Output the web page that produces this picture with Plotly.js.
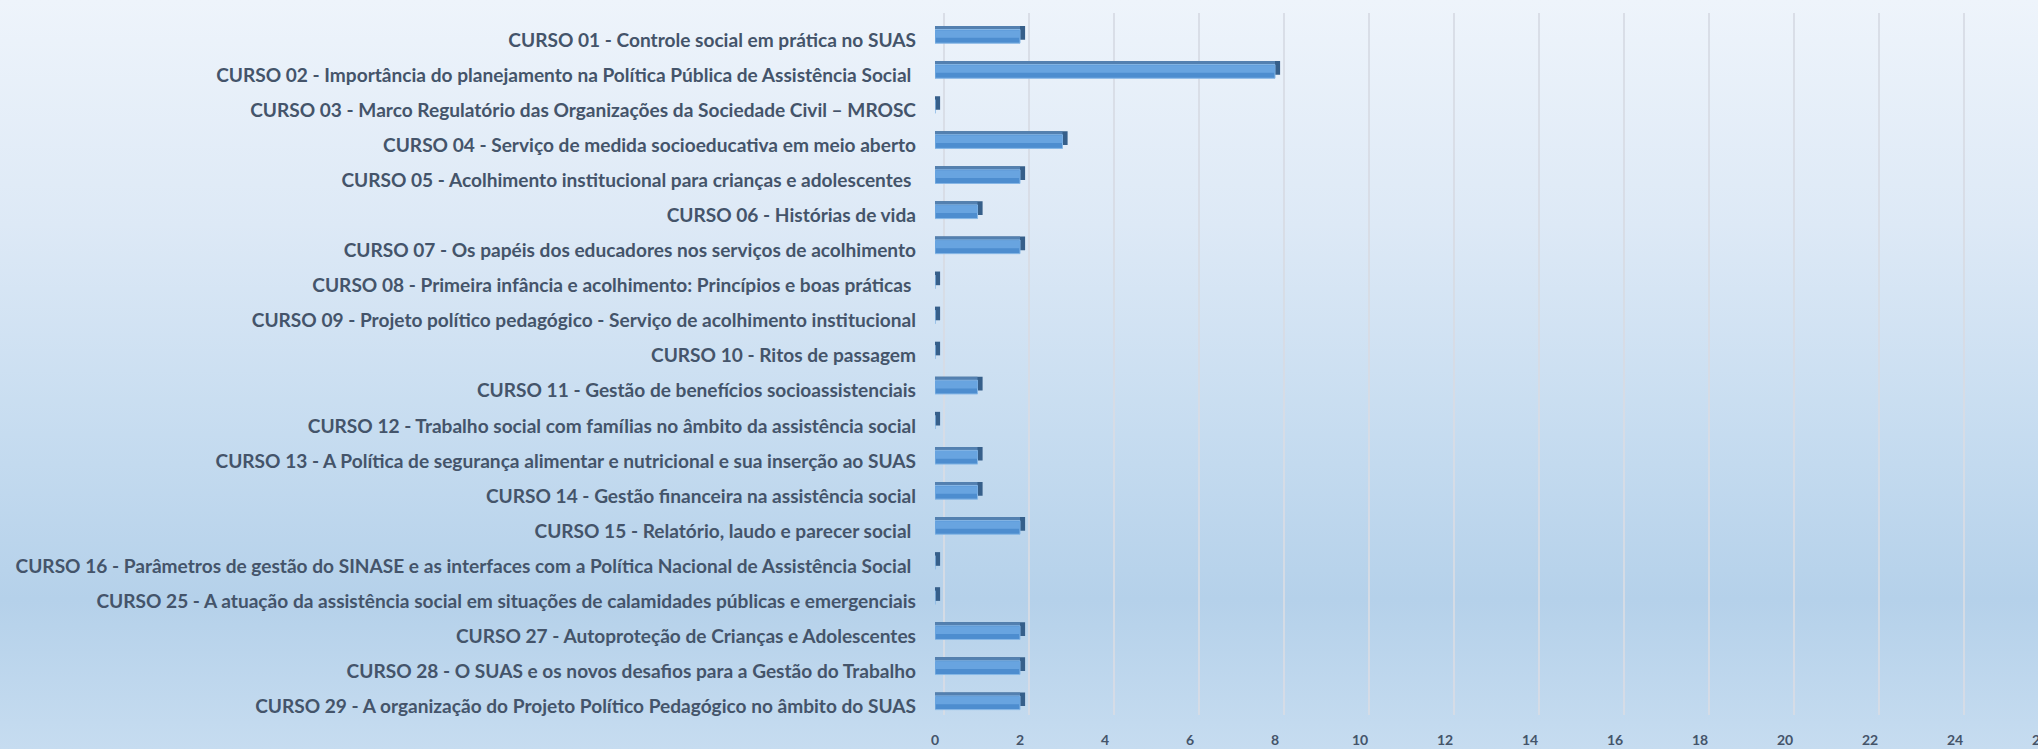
<!DOCTYPE html>
<html>
<head>
<meta charset="utf-8">
<script src="https://cdn.plot.ly/plotly-3.0.1.min.js"></script>
<style>
  html, body { margin: 0; padding: 0; overflow: hidden; width: 2038px; height: 749px; }
  body { background: linear-gradient(to bottom, #eef4fb 0%, #dde9f6 30%, #c6dcf0 58%, #b5d1ea 80%, #c6dcf0 100%); }
  #chart { width: 2050px; height: 749px; }
</style>
</head>
<body>
<div id="chart"></div>
<script>
const NB = '\u00a0';
const categories = [
  'CURSO 01 - Controle social em prática no SUAS',
  'CURSO 02 - Importância do planejamento na Política Pública de Assistência Social' + NB,
  'CURSO 03 - Marco Regulatório das Organizações da Sociedade Civil – MROSC',
  'CURSO 04 - Serviço de medida socioeducativa em meio aberto',
  'CURSO 05 - Acolhimento institucional para crianças e adolescentes' + NB,
  'CURSO 06 - Histórias de vida',
  'CURSO 07 - Os papéis dos educadores nos serviços de acolhimento',
  'CURSO 08 - Primeira infância e acolhimento: Princípios e boas práticas' + NB,
  'CURSO 09 - Projeto político pedagógico - Serviço de acolhimento institucional',
  'CURSO 10 - Ritos de passagem',
  'CURSO 11 - Gestão de benefícios socioassistenciais',
  'CURSO 12 - Trabalho social com famílias no âmbito da assistência social',
  'CURSO 13 - A Política de segurança alimentar e nutricional e sua inserção ao SUAS',
  'CURSO 14 - Gestão financeira na assistência social',
  'CURSO 15 - Relatório, laudo e parecer social' + NB,
  'CURSO 16 - Parâmetros de gestão do SINASE e as interfaces com a Política Nacional de Assistência Social' + NB,
  'CURSO 25 - A atuação da assistência social em situações de calamidades públicas e emergenciais',
  'CURSO 27 - Autoproteção de Crianças e Adolescentes',
  'CURSO 28 - O SUAS e os novos desafios para a Gestão do Trabalho',
  'CURSO 29 - A organização do Projeto Político Pedagógico no âmbito do SUAS'
];
const values = [2, 8, 0, 3, 2, 1, 2, 0, 0, 0, 1, 0, 1, 1, 2, 0, 0, 2, 2, 2];
const tickValues = [0, 2, 4, 6, 8, 10, 12, 14, 16, 18, 20, 22, 24, 26];
const axisMax = 26;

// --- styling ---
const labelFamily = 'Lato';
const labelWeight = 700;
function fitSize() {
  const c = document.createElement('canvas').getContext('2d');
  c.font = labelWeight + ' 100px ' + labelFamily;
  let maxW = 0;
  categories.forEach(s => { maxW = Math.max(maxW, c.measureText(s.replace(NB, '')).width); });
  return Math.max(12, Math.min(24, 100 * 897 / maxW));
}
const labelSize = fitSize();

const sideDepth = 0.12;
const faceWidth = 0.39;
const faceOffset = -0.30;
const lift = 0.10;

const W = 2050, L = 935, R = 1, T = 13, B = 24.5;
const plotW = W - L - R;
const plotH = 749 - T - B;
const frontW = 1105, frontH = 702;

const textColor = '#44546a';

function barLayer(xs, width, offset, color, line) {
  return {
    type: 'bar', orientation: 'h', xaxis: 'x2', yaxis: 'y2',
    y: categories, x: xs, width: width, offset: offset,
    marker: { color: color, line: line || { width: 0 } },
    hoverinfo: 'skip', showlegend: false
  };
}

const traces = [
  { type: 'scatter', x: [], y: [], xaxis: 'x', yaxis: 'y', hoverinfo: 'skip', showlegend: false },
  barLayer(values.map(v => v + sideDepth), faceWidth, faceOffset - lift, '#365f8a'),   // side face
  barLayer(values, faceWidth, faceOffset - lift, '#5380b0'),                           // top face
  barLayer(values, faceWidth, faceOffset, '#4d8dcf', { color: '#86b7e6', width: 1 }), // front face
  barLayer(values, faceWidth * 0.55, faceOffset + 0.02, '#68a4e0')                     // front highlight
];

const layout = {
  width: W, height: 749,
  margin: { l: L, r: R, t: T, b: B, pad: 0 },
  paper_bgcolor: 'rgba(0,0,0,0)',
  plot_bgcolor: 'rgba(0,0,0,0)',
  barmode: 'overlay',
  showlegend: false,
  xaxis: {
    domain: [(plotW - frontW) / plotW, 1], range: [0, axisMax], anchor: 'y',
    tickvals: tickValues, showticklabels: false, ticks: '',
    showgrid: true, gridcolor: 'rgba(215,220,228,0.9)', gridwidth: 1.5,
    zeroline: true, zerolinecolor: 'rgba(215,220,228,0.9)', zerolinewidth: 1.5,
    showline: false
  },
  yaxis: {
    domain: [(plotH - frontH) / plotH, 1], range: [0, 1], anchor: 'x',
    showgrid: false, zeroline: false, showticklabels: false, ticks: '', showline: false
  },
  xaxis2: {
    domain: [0, frontW / plotW], range: [0, axisMax], anchor: 'y2',
    tickvals: tickValues, ticks: '', showgrid: false, zeroline: false, showline: false,
    ticklabelstandoff: 6,
    tickfont: { family: 'Lato, sans-serif', size: 14, weight: 700, color: textColor }
  },
  yaxis2: {
    domain: [0, frontH / plotH], anchor: 'x2', type: 'category',
    categoryorder: 'array', categoryarray: categories,
    autorange: 'reversed', ticks: '', showgrid: false, zeroline: false, showline: false,
    ticklabelstandoff: 18,
    tickfont: { family: labelFamily + ', sans-serif', size: labelSize, weight: labelWeight, color: textColor }
  }
};

Plotly.newPlot('chart', traces, layout, { displayModeBar: false, staticPlot: true });
</script>
</body>
</html>
